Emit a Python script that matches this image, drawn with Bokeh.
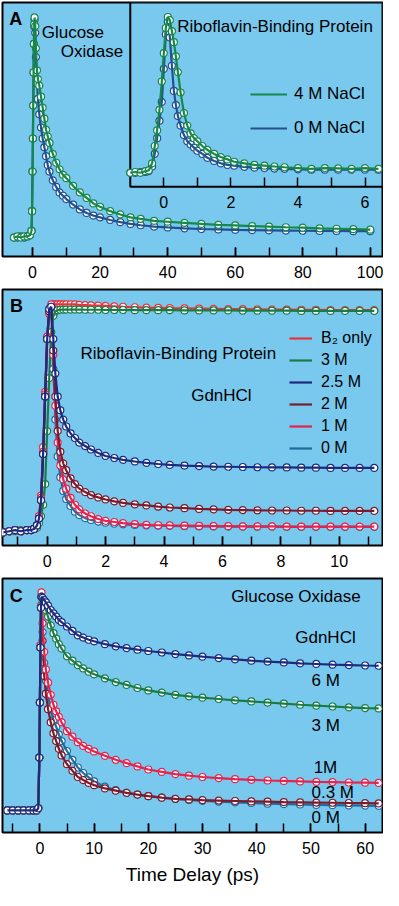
from bokeh.plotting import figure
from bokeh.models import (Range1d, LinearAxis, FixedTicker, SingleIntervalTicker,
                          Label, Legend, LegendItem)
from bokeh.layouts import column
from bokeh.embed import file_html
from bokeh.resources import INLINE

BG = "#79c9ef"
FONT = "Liberation Sans"

# ---------------- Panel A : Glucose oxidase, NaCl (main) ----------------
ta = [-5.5, -4.5, -3.5, -2.5, -1.5, -0.8, -0.3, -0.15, 0.0, 0.1, 0.2, 0.3, 0.4, 0.5, 0.6,
      0.8, 1.0, 1.3, 1.6, 2.0, 2.5, 3.0, 3.5, 4.0, 4.5, 5, 6, 7, 8, 9, 10, 12, 14, 16, 18, 20,
      23, 26, 29, 32, 36, 40, 45, 50, 55, 60, 65, 70, 75, 80, 85, 90, 95, 100]
gox_4m_nacl = [0.0, 0.005, 0.0, 0.005, 0.005, 0.01, 0.03, 0.12, 0.30, 0.45, 0.60, 0.75, 0.88, 0.97, 1.0,
               0.96, 0.86, 0.76, 0.72, 0.69, 0.64, 0.59, 0.54, 0.49, 0.46, 0.43,
               0.38, 0.34, 0.31, 0.285, 0.27, 0.235, 0.205, 0.18, 0.155, 0.14,
               0.12, 0.105, 0.092, 0.085, 0.076, 0.072,
               0.067, 0.062, 0.058, 0.055, 0.052, 0.05, 0.047, 0.045, 0.042, 0.04, 0.038, 0.036]
gox_0m_nacl = [0.0, 0.0, 0.005, 0.0, 0.005, 0.01, 0.03, 0.12, 0.30, 0.45, 0.60, 0.75, 0.88, 0.96, 0.99,
               0.93, 0.82, 0.70, 0.63, 0.56, 0.50, 0.45, 0.41, 0.37, 0.33, 0.30,
               0.26, 0.23, 0.205, 0.19, 0.175, 0.15, 0.128, 0.112, 0.10, 0.092,
               0.08, 0.07, 0.062, 0.056, 0.05, 0.046,
               0.042, 0.039, 0.037, 0.035, 0.034, 0.033, 0.032, 0.031, 0.03, 0.03, 0.029, 0.029]

# ---------------- Panel A inset : Riboflavin-binding protein, NaCl ----------------
ti = [-1.0, -0.85, -0.7, -0.55, -0.45, -0.35, -0.27, -0.2, -0.13, -0.06,
      0.0, 0.06, 0.12, 0.18, 0.24, 0.3, 0.36, 0.42, 0.5, 0.6,
      0.7, 0.8, 0.9, 1.0, 1.15, 1.3, 1.5, 1.7, 1.9, 2.1,
      2.4, 2.7, 3.0, 3.3, 3.6, 4.0, 4.4, 4.8, 5.2, 5.6, 6.0, 6.4]
rbp_4m_nacl = [0.0, 0.005, 0.0, 0.01, 0.015, 0.06, 0.17, 0.27, 0.40, 0.58,
               0.76, 0.92, 0.99, 0.97, 0.90, 0.83, 0.74, 0.64, 0.51, 0.38,
               0.30, 0.25, 0.22, 0.20, 0.17, 0.145, 0.12, 0.10, 0.085, 0.07,
               0.06, 0.05, 0.045, 0.04, 0.035, 0.03, 0.025, 0.03, 0.028, 0.025, 0.03, 0.025]
rbp_0m_nacl = [0.0, 0.0, 0.005, 0.005, 0.01, 0.04, 0.12, 0.22, 0.33, 0.45,
               0.66, 0.88, 0.96, 0.86, 0.68, 0.52, 0.43, 0.36, 0.30, 0.24,
               0.20, 0.18, 0.16, 0.14, 0.12, 0.095, 0.075, 0.06, 0.05, 0.045,
               0.038, 0.033, 0.03, 0.027, 0.025, 0.022, 0.02, 0.02, 0.02, 0.02, 0.02, 0.02]

# ---------------- Panel B : Riboflavin-binding protein, GdnHCl ----------------
tb = [-1.5, -1.3, -1.1, -0.9, -0.7, -0.55, -0.45, -0.35, -0.28, -0.21,
      -0.14, -0.07, 0.0, 0.07, 0.14, 0.21, 0.28, 0.36, 0.45, 0.55,
      0.65, 0.8, 0.95, 1.1, 1.3, 1.5, 1.75, 2.0, 2.3, 2.6,
      3.0, 3.4, 3.8, 4.2, 4.7, 5.2, 5.7, 6.2, 6.7, 7.2,
      7.7, 8.2, 8.7, 9.2, 9.7, 10.2, 10.7, 11.2]
rbp_b2_only = [0.01, 0.015, 0.02, 0.015, 0.02, 0.02, 0.025, 0.04, 0.08, 0.17,
               0.38, 0.62, 0.85, 0.96, 0.99, 1.0, 1.0, 1.0, 1.0, 1.0,
               1.0, 1.0, 1.0, 0.998, 0.997, 0.996, 0.995, 0.994, 0.992, 0.99,
               0.988, 0.986, 0.985, 0.984, 0.983, 0.982, 0.981, 0.98, 0.98, 0.979,
               0.978, 0.978, 0.977, 0.977, 0.976, 0.976, 0.975, 0.975]
rbp_3m = [0.01, 0.015, 0.015, 0.02, 0.02, 0.02, 0.025, 0.03, 0.05, 0.08,
          0.13, 0.22, 0.45, 0.68, 0.88, 0.95, 0.97, 0.975, 0.977, 0.978,
          0.978, 0.978, 0.978, 0.978, 0.977, 0.977, 0.977, 0.976, 0.976, 0.976,
          0.975, 0.975, 0.975, 0.975, 0.974, 0.974, 0.974, 0.974, 0.973, 0.973,
          0.973, 0.973, 0.972, 0.972, 0.972, 0.972, 0.972, 0.972]
rbp_2p5m = [0.01, 0.015, 0.02, 0.015, 0.02, 0.02, 0.025, 0.04, 0.07, 0.15,
            0.35, 0.60, 0.85, 0.98, 0.99, 0.85, 0.70, 0.60, 0.54, 0.50,
            0.47, 0.44, 0.42, 0.40, 0.385, 0.37, 0.355, 0.342, 0.333, 0.325,
            0.318, 0.312, 0.307, 0.303, 0.30, 0.298, 0.296, 0.295, 0.294, 0.293,
            0.292, 0.292, 0.291, 0.291, 0.29, 0.29, 0.29, 0.29]
rbp_2m = [0.01, 0.015, 0.02, 0.015, 0.02, 0.02, 0.025, 0.04, 0.07, 0.15,
          0.35, 0.60, 0.85, 0.97, 0.99, 0.80, 0.60, 0.45, 0.36, 0.31,
          0.28, 0.245, 0.22, 0.20, 0.185, 0.172, 0.162, 0.153, 0.145, 0.138,
          0.132, 0.127, 0.122, 0.118, 0.115, 0.112, 0.11, 0.108, 0.107, 0.106,
          0.105, 0.105, 0.104, 0.104, 0.103, 0.103, 0.103, 0.103]
rbp_1m = [0.01, 0.015, 0.02, 0.015, 0.02, 0.02, 0.025, 0.04, 0.08, 0.16,
          0.36, 0.61, 0.86, 0.98, 1.0, 0.78, 0.56, 0.40, 0.30, 0.24,
          0.20, 0.16, 0.13, 0.11, 0.092, 0.08, 0.068, 0.06, 0.055, 0.05,
          0.046, 0.043, 0.041, 0.04, 0.039, 0.038, 0.037, 0.037, 0.036, 0.036,
          0.036, 0.035, 0.035, 0.035, 0.035, 0.035, 0.035, 0.035]
rbp_0m = [0.01, 0.015, 0.02, 0.015, 0.02, 0.02, 0.025, 0.04, 0.07, 0.15,
          0.35, 0.60, 0.85, 0.97, 0.99, 0.72, 0.50, 0.34, 0.25, 0.19,
          0.155, 0.125, 0.10, 0.085, 0.072, 0.064, 0.057, 0.052, 0.048, 0.045,
          0.042, 0.04, 0.039, 0.038, 0.037, 0.036, 0.036, 0.035, 0.035, 0.035,
          0.035, 0.034, 0.034, 0.034, 0.034, 0.034, 0.034, 0.034]

# ---------------- Panel C : Glucose oxidase, GdnHCl ----------------
tc = [-6, -5, -4, -3, -2, -1.2, -0.6, -0.3, -0.1, 0.0,
      0.1, 0.2, 0.3, 0.5, 0.8, 1.1, 1.5, 2.0, 2.5, 3.0,
      3.5, 4.0, 5, 6, 7, 8, 9, 10, 12, 14,
      16, 18, 20, 22.5, 25, 27.5, 30, 33, 36, 39,
      42, 45, 48, 51, 54, 57, 60, 62.5]
gox_6m = [0.01, 0.01, 0.01, 0.01, 0.01, 0.01, 0.01, 0.02, 0.25, 0.50,
          0.75, 0.93, 0.98, 0.975, 0.965, 0.955, 0.94, 0.92, 0.905, 0.89,
          0.875, 0.865, 0.845, 0.825, 0.805, 0.795, 0.785, 0.778, 0.765, 0.755,
          0.747, 0.74, 0.734, 0.727, 0.72, 0.714, 0.708, 0.702, 0.696, 0.69,
          0.686, 0.682, 0.678, 0.675, 0.672, 0.67, 0.668, 0.667]
gox_3m = [0.01, 0.01, 0.01, 0.01, 0.01, 0.01, 0.01, 0.02, 0.25, 0.50,
          0.75, 0.93, 0.98, 0.96, 0.94, 0.92, 0.89, 0.85, 0.815, 0.79,
          0.765, 0.745, 0.71, 0.69, 0.67, 0.655, 0.64, 0.628, 0.61, 0.593,
          0.58, 0.566, 0.555, 0.545, 0.535, 0.528, 0.522, 0.516, 0.51, 0.505,
          0.50, 0.495, 0.49, 0.486, 0.482, 0.478, 0.475, 0.473]
gox_1m = [0.01, 0.01, 0.01, 0.01, 0.01, 0.01, 0.01, 0.02, 0.25, 0.50,
          0.76, 0.94, 1.0, 0.86, 0.73, 0.65, 0.59, 0.535, 0.49, 0.46,
          0.435, 0.41, 0.37, 0.345, 0.32, 0.303, 0.29, 0.278, 0.258, 0.24,
          0.225, 0.21, 0.196, 0.185, 0.175, 0.168, 0.162, 0.157, 0.152, 0.149,
          0.146, 0.144, 0.142, 0.14, 0.139, 0.137, 0.136, 0.135]
gox_0p3m = [0.01, 0.01, 0.01, 0.01, 0.01, 0.01, 0.01, 0.02, 0.25, 0.50,
            0.75, 0.93, 0.98, 0.78, 0.62, 0.54, 0.47, 0.41, 0.36, 0.325,
            0.29, 0.26, 0.22, 0.19, 0.162, 0.148, 0.135, 0.125, 0.11, 0.10,
            0.09, 0.082, 0.075, 0.068, 0.063, 0.06, 0.057, 0.055, 0.053, 0.051,
            0.05, 0.048, 0.047, 0.046, 0.045, 0.044, 0.043, 0.042]
gox_0m = [0.01, 0.01, 0.01, 0.01, 0.01, 0.01, 0.01, 0.02, 0.25, 0.50,
          0.75, 0.93, 0.98, 0.82, 0.68, 0.60, 0.53, 0.47, 0.42, 0.39,
          0.355, 0.325, 0.28, 0.24, 0.205, 0.18, 0.16, 0.142, 0.118, 0.102,
          0.09, 0.082, 0.075, 0.068, 0.062, 0.058, 0.054, 0.05, 0.047, 0.044,
          0.041, 0.039, 0.037, 0.035, 0.034, 0.033, 0.032, 0.031]

GREEN = "#17874a"
BLUE_A = "#23508e"
RED = "#e8323c"
GREEN_B = "#1a7c45"
NAVY = "#1d2b7c"
MAROON = "#7b1b2e"
CRIMSON = "#e2244f"
TEAL = "#1f6b9c"


def make_fig(xr, yr, h, top, bottom):
    p = figure(width=383, height=h, x_range=xr, y_range=yr, output_backend="svg",
               toolbar_location=None, y_axis_location=None,
               min_border_left=2, min_border_right=1,
               min_border_top=top, min_border_bottom=bottom)
    p.background_fill_color = BG
    p.border_fill_color = "white"
    p.outline_line_color = "black"
    p.outline_line_width = 2
    p.grid.visible = False
    return p


def style_axis(ax):
    ax.axis_line_color = None
    ax.major_tick_in = 9
    ax.major_tick_out = 0
    ax.minor_tick_in = 9
    ax.minor_tick_out = 0
    ax.major_tick_line_color = "black"
    ax.minor_tick_line_color = "black"
    ax.major_tick_line_width = 1.5
    ax.minor_tick_line_width = 1.5
    ax.major_label_text_font = FONT
    ax.major_label_text_font_size = "16px"
    ax.major_label_text_color = "black"
    ax.major_label_standoff = 9


def series(p, x, y, color, **kw):
    p.scatter(x, y, size=7, marker="circle", fill_color="white", line_color=color,
              line_width=1.2, **kw)
    return p.line(x, y, line_color=color, line_width=2.2, **kw)


def lab(p, x, y, text, size="17px", bold=False, align="left", **kw):
    p.add_layout(Label(x=x, y=y, text=text, text_font=FONT, text_font_size=size,
                       text_font_style="bold" if bold else "normal", text_align=align,
                       text_baseline="middle", text_color="black", **kw))


# ---------- Panel A ----------
pa = make_fig(Range1d(-8.9, 103.6), Range1d(-0.086, 1.068), 286, 2, 30)
pa.extra_x_ranges = {"ix": Range1d(-4.81, 6.52)}
pa.extra_y_ranges = {"iy": Range1d(-0.532, 1.082)}
style_axis(pa.xaxis[0])
pa.xaxis[0].ticker = SingleIntervalTicker(interval=20, num_minor_ticks=2)

series(pa, ta, gox_0m_nacl, BLUE_A)
series(pa, ta, gox_4m_nacl, GREEN)

INSET_X0 = -1.0
INSET_Y0 = -0.089
pa.quad(left=[INSET_X0], right=[pa.extra_x_ranges["ix"].end], bottom=[INSET_Y0],
        top=[pa.extra_y_ranges["iy"].end], fill_color=BG, line_color="black", line_width=2,
        x_range_name="ix", y_range_name="iy")
b_in = series(pa, ti, rbp_0m_nacl, BLUE_A, x_range_name="ix", y_range_name="iy")
g_in = series(pa, ti, rbp_4m_nacl, GREEN, x_range_name="ix", y_range_name="iy")

iax = LinearAxis(x_range_name="ix", y_range_name="iy", fixed_location=INSET_Y0,
                 ticker=FixedTicker(ticks=[0, 2, 4, 6], minor_ticks=[1, 3, 5]))
style_axis(iax)
pa.add_layout(iax, "below")

lab(pa, -6.9, 0.993, "A", size="18px", bold=True)
lab(pa, 2.7, 0.93, "Glucose")
lab(pa, 26.8, 0.846, "Oxidase", align="right")
lab(pa, 0.40, 0.93, "Riboflavin-Binding Protein", x_range_name="ix", y_range_name="iy")

leg_a = Legend(items=[LegendItem(label="4 M NaCl", renderers=[g_in]),
                      LegendItem(label="0 M NaCl", renderers=[b_in])],
               location=(248, 118), padding=0, margin=0, spacing=14,
               glyph_width=37, glyph_height=20, label_height=20, label_standoff=7,
               label_text_font=FONT, label_text_font_size="17px",
               label_text_color="black",
               background_fill_alpha=0, border_line_color=None)
pa.add_layout(leg_a)

# ---------- Panel B ----------
pb = make_fig(Range1d(-1.53, 11.48), Range1d(-0.047, 1.065), 289, 3, 30)
style_axis(pb.xaxis[0])
pb.xaxis[0].ticker = SingleIntervalTicker(interval=2, num_minor_ticks=2)

r_b2 = series(pb, tb, rbp_b2_only, RED)
r_3 = series(pb, tb, rbp_3m, GREEN_B)
r_0 = series(pb, tb, rbp_0m, TEAL)
r_1 = series(pb, tb, rbp_1m, CRIMSON)
r_2 = series(pb, tb, rbp_2m, MAROON)
r_25 = series(pb, tb, rbp_2p5m, NAVY)

lab(pb, -1.275, 0.994, "B", size="18px", bold=True)
lab(pb, 1.14, 0.789, "Riboflavin-Binding Protein")
lab(pb, 4.93, 0.603, "GdnHCl")

leg_b = Legend(items=[LegendItem(label="B\u2082 only", renderers=[r_b2]),
                      LegendItem(label="3 M", renderers=[r_3]),
                      LegendItem(label="2.5 M", renderers=[r_25]),
                      LegendItem(label="2 M", renderers=[r_2]),
                      LegendItem(label="1 M", renderers=[r_1]),
                      LegendItem(label="0 M", renderers=[r_0])],
               location=(287, 88), padding=0, margin=0, spacing=4,
               glyph_width=23, glyph_height=18, label_height=18, label_standoff=9,
               label_text_font=FONT, label_text_font_size="16px",
               label_text_color="black",
               background_fill_alpha=0, border_line_color=None)
pb.add_layout(leg_b)

# ---------- Panel C ----------
pc = make_fig(Range1d(-6.9, 63.2), Range1d(-0.09, 1.063), 313, 3, 56)
style_axis(pc.xaxis[0])
pc.xaxis[0].ticker = SingleIntervalTicker(interval=10, num_minor_ticks=2)
pc.xaxis[0].axis_label = "Time Delay (ps)"
pc.xaxis[0].axis_label_text_font = FONT
pc.xaxis[0].axis_label_text_font_size = "19px"
pc.xaxis[0].axis_label_text_font_style = "normal"
pc.xaxis[0].axis_label_text_color = "black"
pc.xaxis[0].axis_label_standoff = 7

series(pc, tc, gox_0m, TEAL)
series(pc, tc, gox_0p3m, MAROON)
series(pc, tc, gox_1m, CRIMSON)
series(pc, tc, gox_3m, GREEN_B)
series(pc, tc, gox_6m, NAVY)

lab(pc, -5.55, 0.984, "C", size="18px", bold=True)
lab(pc, 35.3, 0.982, "Glucose Oxidase")
lab(pc, 47.1, 0.797, "GdnHCl")
lab(pc, 50.1, 0.599, "6 M")
lab(pc, 50.1, 0.396, "3 M")
lab(pc, 50.5, 0.203, "1M")
lab(pc, 50.1, 0.09, "0.3 M")
lab(pc, 50.1, -0.023, "0 M")

layout = column(pa, pb, pc, spacing=0)
open("out.html", "w").write(file_html(layout, INLINE))
